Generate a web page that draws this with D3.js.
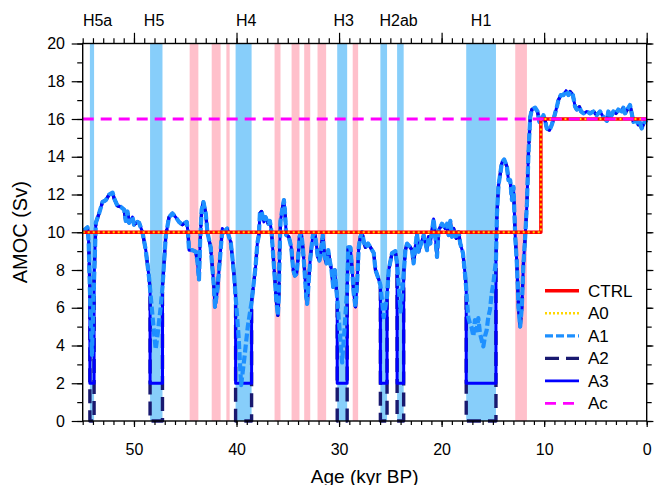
<!DOCTYPE html>
<html>
<head>
<meta charset="utf-8">
<script src="https://cdn.jsdelivr.net/npm/d3@7"></script>
<style>
  body { margin: 0; background: #fff; }
  text { font-family: "Liberation Sans", Arial, sans-serif; }
</style>
</head>
<body>
<svg id="chart" width="657" height="485"></svg>
<script>
// A1 curve (age kyr BP, AMOC Sv); outside the H events A2 and A3 follow it too
var ageA1 = [55, 54.86, 54.53, 54.42, 54.3, 54.1, 53.89, 53.72, 53.4, 53.07, 52.75, 52.42, 52.09, 51.94, 51.61,
  51.29, 50.96, 50.8, 50.63, 50.48, 50.15, 49.99, 49.66, 49.5, 49.17, 48.85, 48.53, 48.43, 48.1, 47.88,
  47.65, 47.4, 47.22, 46.9, 46.58, 46.25, 45.93, 45.61, 45.28, 44.86, 44.73, 44.63, 44.3, 43.98, 43.82,
  43.66, 43.55, 43.4, 43.23, 43.0, 42.84, 42.52, 42.2, 42.1, 41.87, 41.55, 41.38, 41.23, 40.9, 40.74,
  40.57, 40.41, 40.25, 40.09, 39.8, 39.55, 39.2, 38.9, 38.53, 38.14, 37.97, 37.82, 37.72, 37.56, 37.33,
  37.17, 36.9, 36.75, 36.58, 36.46, 36.26, 36.12, 35.97, 35.87, 35.8, 35.71, 35.54, 35.38, 35.29, 35.15,
  34.9, 34.66, 34.47, 34.31, 34.15, 33.98, 33.86, 33.69, 33.53, 33.37, 33.2, 33.11, 32.95, 32.79, 32.56,
  32.37, 32.23, 32.07, 31.91, 31.74, 31.59, 31.42, 31.23, 31.06, 30.91, 30.74, 30.57, 30.42, 30.25, 30.18,
  29.9, 29.7, 29.45, 29.21, 29.11, 28.89, 28.72, 28.57, 28.4, 28.24, 28.08, 27.92, 27.75, 27.59, 27.43,
  27.17, 26.94, 26.62, 26.45, 26.13, 25.97, 25.65, 25.32, 25.16, 24.83, 24.51, 24.34, 24.0, 23.7, 23.53,
  23.37, 23.05, 22.88, 22.73, 22.56, 22.4, 22.24, 22.01, 21.75, 21.42, 21.27, 21.1, 20.78, 20.61, 20.45,
  20.29, 19.96, 19.64, 19.47, 19.32, 19.15, 18.99, 18.83, 18.57, 18.34, 18.18, 17.92, 17.69, 17.6, 17.4,
  17.25, 17.1, 16.9, 16.75, 16.58, 16.42, 16.26, 16.1, 15.93, 15.77, 15.61, 15.45, 15.28, 15.12, 14.95,
  14.7, 14.6, 14.45, 14.28, 14.12, 13.9, 13.63, 13.48, 13.31, 13.14, 12.99, 12.82, 12.66, 12.5, 12.34,
  12.18, 12.02, 11.85, 11.68, 11.53, 11.36, 11.2, 10.88, 10.65, 10.46, 10.22, 10.07, 9.9, 9.74, 9.48,
  9.25, 9.03, 8.76, 8.61, 8.37, 8.12, 7.86, 7.63, 7.47, 7.2, 6.98, 6.82, 6.56, 6.4, 6.17,
  5.84, 5.52, 5.2, 4.87, 4.55, 4.23, 3.89, 3.74, 3.5, 3.25, 2.99, 2.77, 2.43, 2.28, 2.11,
  1.89, 1.63, 1.46, 1.3, 1.04, 0.82, 0.65, 0.49, 0.26, 0];
var amocA1 = [10.1, 10.1, 10.26, 9.5, 7.0, 3.5, 7.5, 10.5, 11.0, 11.6, 11.7, 12.0, 12.1, 11.8, 11.4,
  11.35, 11.2, 10.6, 11.1, 10.5, 10.8, 10.4, 10.55, 10.5, 10.0, 9.05, 7.6, 7.0, 5.0, 3.8,
  4.8, 6.0, 7.1, 9.8, 10.8, 11.0, 10.8, 10.55, 10.4, 10.55, 10.0, 9.05, 9.05, 8.97, 8.5,
  7.5, 9.5, 11.2, 11.6, 11.0, 10.0, 9.2, 7.1, 6.05, 6.9, 9.05, 10.2, 10.0, 10.2, 9.76,
  9.5, 8.7, 7.8, 6.6, 4.5, 1.9, 3.5, 5.0, 6.3, 8.2, 9.4, 9.85, 11.0, 11.1, 10.55,
  10.8, 10.45, 10.6, 10.0, 9.05, 7.5, 6.4, 5.6, 6.6, 8.9, 10.6, 11.2, 11.7, 11.2, 9.85,
  9.76, 9.2, 8.0, 7.7, 7.8, 8.7, 9.76, 10.0, 9.2, 8.0, 6.6, 6.2, 7.5, 8.7, 9.85,
  9.94, 9.4, 8.7, 8.5, 9.15, 9.85, 8.7, 8.35, 9.05, 8.5, 8.0, 7.1, 8.0, 6.9, 6.5,
  4.5, 3.1, 5.0, 7.0, 9.2, 9.2, 8.0, 6.75, 6.05, 7.3, 9.2, 9.76, 10.0, 9.5, 9.2,
  9.4, 9.2, 8.9, 8.0, 7.5, 7.2, 5.5, 6.6, 8.0, 8.9, 9.0, 8.3, 5.8, 7.8, 9.05,
  9.4, 9.2, 9.05, 8.35, 9.2, 9.94, 8.97, 9.4, 9.85, 9.05, 9.76, 9.4, 10.7, 9.76, 8.7,
  10.1, 10.45, 10.2, 10.45, 9.85, 10.6, 9.76, 10.2, 9.68, 10.0, 9.4, 8.9, 7.65, 7.0, 5.5,
  5.2, 5.0, 4.5, 5.35, 4.8, 5.45, 4.65, 4.3, 3.95, 4.5, 4.8, 5.5, 5.9, 6.75, 7.3,
  8.5, 11.0, 12.5, 13.1, 13.7, 13.86, 13.47, 12.76, 12.76, 11.7, 12.4, 9.76, 8.35, 6.0, 5.0,
  6.0, 8.35, 9.76, 11.5, 14.2, 16.1, 16.5, 16.6, 16.4, 15.85, 16.0, 16.2, 15.9, 15.5, 15.4,
  15.7, 16.1, 16.65, 17.0, 17.27, 17.27, 17.5, 17.27, 17.45, 17.27, 16.65, 16.5, 16.65, 16.4, 16.3,
  16.4, 16.3, 16.4, 16.2, 16.4, 16.1, 15.9, 16.4, 16.1, 16.4, 16.3, 16.5, 16.4, 16.6, 16.3,
  16.5, 16.74, 16.3, 15.85, 15.95, 15.7, 15.8, 15.5, 15.8, 15.95];

// Heinrich events (blue bands) and their labels
var hStart = [54.3, 48.43, 40.09, 30.18, 25.97, 24.34, 17.6];
var hEnd = [53.89, 47.22, 38.53, 29.21, 25.32, 23.7, 14.7];
var hNames = ['H5a', 'H5', 'H4', 'H3', 'H2ab', 'H1'];
var hLabelAge = [53.55, 48.04, 39.05, 29.54, 24.19, 16.15];
// pink bands
var pStart = [44.57, 42.42, 40.99, 36.29, 34.63, 33.4, 32.1, 28.67, 12.82];
var pEnd = [43.72, 41.55, 40.67, 35.71, 33.86, 32.81, 31.26, 28.14, 11.68];

// during the events A3 is held at 2 Sv and A2 at 0 Sv
var a3EventValue = 2;
var a2EventValue = 0;

var ctrlAge = [55, 10.32, 10.32, 0];
var ctrlVal = [10, 10, 16, 16];
var acAge = [55, 0];
var acVal = [16, 16];

var xTicks = [50, 40, 30, 20, 10, 0];
var yTicks = [0, 2, 4, 6, 8, 10, 12, 14, 16, 18, 20];

var svg = d3.select('#chart');
var L = 82.7, R = 646.7, T = 43.5, B = 421;
var x = d3.scaleLinear().domain([55, 0]).range([L, R]);
var y = d3.scaleLinear().domain([0, 20]).range([B, T]);

// bands
function bands(s, e, col) {
  svg.append('g').selectAll('rect').data(s).enter().append('rect')
    .attr('x', function(d) { return x(d); })
    .attr('width', function(d, i) { return x(e[i]) - x(d); })
    .attr('y', T).attr('height', B - T)
    .attr('fill', col);
}
bands(pStart, pEnd, '#ffc0cb');
bands(hStart, hEnd, '#87cefa');

svg.append('clipPath').attr('id', 'clip').append('rect')
  .attr('x', L - 3).attr('y', T - 3).attr('width', R - L + 6).attr('height', B - T + 6);

// A1 with event parts replaced by a flat value and vertical edges
function stepped(v) {
  var pts = [];
  ageA1.forEach(function(a, i) {
    var k = hStart.indexOf(a), m = hEnd.indexOf(a);
    if (k >= 0) { pts.push([a, amocA1[i]]); pts.push([a, v]); return; }
    if (m >= 0) { pts.push([a, v]); pts.push([a, amocA1[i]]); return; }
    var inside = hStart.some(function(s, j) { return a < s && a > hEnd[j]; });
    pts.push([a, inside ? v : amocA1[i]]);
  });
  return pts;
}

var line = d3.line().x(function(d) { return x(d[0]); }).y(function(d) { return y(d[1]); });
var plot = svg.append('g').attr('clip-path', 'url(#clip)');

function draw(pts, col, w, dash) {
  plot.append('path').datum(pts).attr('d', line)
    .attr('fill', 'none').attr('stroke', col).attr('stroke-width', w)
    .attr('stroke-dasharray', dash).attr('stroke-linejoin', 'round');
}
function zip(a, b) { return a.map(function(d, i) { return [d, b[i]]; }); }

draw(stepped(a2EventValue), '#191970', 3.4, '14,7');
draw(stepped(a3EventValue), '#0000ff', 3, null);
draw(zip(ageA1, amocA1), '#1e90ff', 4.2, '8,3');
draw(zip(ctrlAge, ctrlVal), '#ff0000', 3.5, null);
draw(zip(ctrlAge, ctrlVal), '#ffd700', 2, '2,3');
draw(zip(acAge, acVal), '#ff00ff', 2.8, '11,7');

// axes
var minorX = d3.range(0, 56, 1), minorY = d3.range(0, 21, 1);
function axis(gen, tr, vals, size, labels, pad) {
  var a = gen.tickValues(vals).tickSize(size).tickSizeOuter(0);
  if (!labels) a.tickFormat('');
  else a.tickPadding(pad);
  var g = svg.append('g').attr('transform', tr).call(a);
  g.select('.domain').remove();
  g.selectAll('line').attr('stroke', '#000').attr('stroke-width', 1.2);
  g.selectAll('text').attr('font-size', 16).attr('fill', '#000')
    .style('font-family', '"Liberation Sans", Arial, sans-serif');
  return g;
}
axis(d3.axisBottom(x), 'translate(0,' + B + ')', minorX, 4, false);
axis(d3.axisBottom(x), 'translate(0,' + B + ')', xTicks, 6, true, 16.6);
axis(d3.axisTop(x), 'translate(0,' + T + ')', minorX, 5.3, false);
axis(d3.axisTop(x), 'translate(0,' + T + ')', xTicks, 10.7, false);
axis(d3.axisLeft(y), 'translate(' + L + ',0)', minorY, 5.5, false);
axis(d3.axisLeft(y), 'translate(' + L + ',0)', yTicks, 11, true, 6.7);
axis(d3.axisRight(y), 'translate(' + R + ',0)', minorY, 5, false);
axis(d3.axisRight(y), 'translate(' + R + ',0)', yTicks, 6.7, false);

svg.append('rect').attr('x', L).attr('y', T).attr('width', R - L).attr('height', B - T)
  .attr('fill', 'none').attr('stroke', '#000').attr('stroke-width', 1.4);

// event labels on top
svg.append('g').selectAll('text').data(hNames).enter().append('text')
  .attr('x', function(d, i) { return x(hLabelAge[i]); })
  .attr('y', 25.5).attr('text-anchor', 'middle').attr('font-size', 16)
  .text(function(d) { return d; });

// axis titles
svg.append('text').attr('x', (L + R) / 2).attr('y', 483).attr('text-anchor', 'middle')
  .attr('font-size', 19).text('Age (kyr BP)');
svg.append('text').attr('transform', 'translate(27,' + ((T + B) / 2) + ') rotate(-90)')
  .attr('text-anchor', 'middle').attr('font-size', 20).text('AMOC (Sv)');

// legend
var legNames = ['CTRL', 'A0', 'A1', 'A2', 'A3', 'Ac'];
var legCols = ['#ff0000', '#ffd700', '#1e90ff', '#191970', '#0000ff', '#ff00ff'];
var legDash = [null, '2,2', '8,3', '14,7', null, '11,7'];
var legW = [3.5, 2.5, 3.2, 3.2, 2.8, 2.8];
var leg = svg.append('g');
legNames.forEach(function(n, i) {
  var ly = 290.8 + i * 22.5;
  leg.append('line').attr('x1', 545).attr('x2', 579).attr('y1', ly).attr('y2', ly)
    .attr('stroke', legCols[i]).attr('stroke-width', legW[i]).attr('stroke-dasharray', legDash[i]);
  leg.append('text').attr('x', 588).attr('y', ly).attr('dy', '0.36em')
    .attr('font-size', 17).text(n);
});
</script>
</body>
</html>
